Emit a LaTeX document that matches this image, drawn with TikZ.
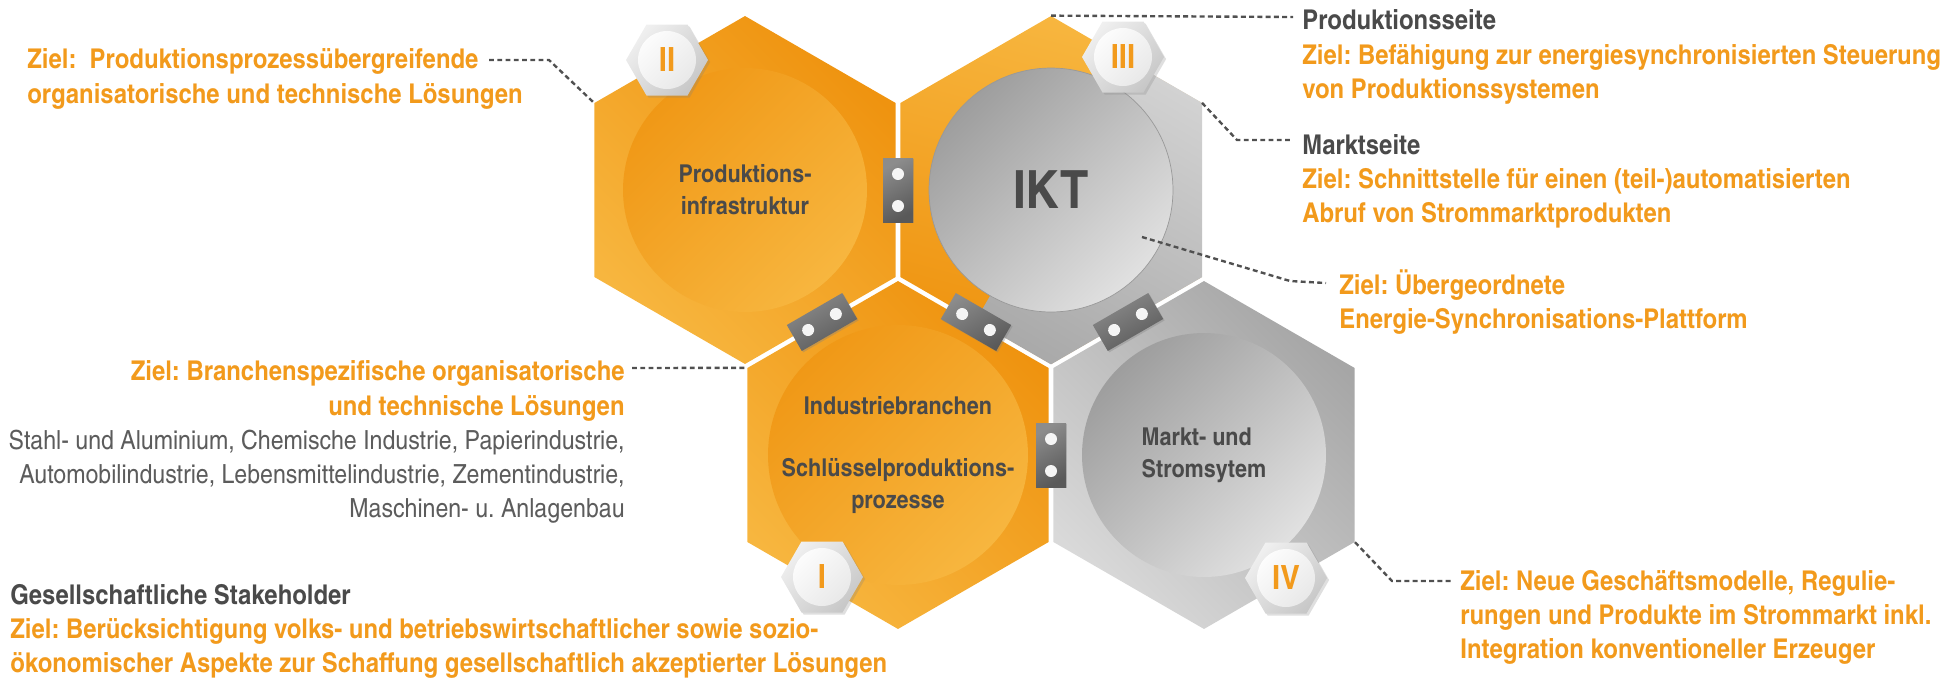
\documentclass[tikz,border=0pt]{standalone}
\usepackage{fontspec}
\setmainfont{texgyreheroscn}[Extension=.otf, UprightFont=*-regular, BoldFont=*-bold, FakeStretch=1.07]
\usetikzlibrary{
  positioning,
  shadows,
  shapes.geometric,
}
\frenchspacing

\definecolor{zielorange}{HTML}{F29A1C}
\definecolor{darktext}{HTML}{4A4A4A}
\definecolor{bodytext}{HTML}{5C5C5C}
\definecolor{dashgray}{HTML}{505050}
\definecolor{orangeD}{HTML}{EF930F}
\definecolor{orangeL}{HTML}{F7B63F}
\definecolor{grayD}{HTML}{A6A6A6}
\definecolor{grayL}{HTML}{D9D9D9}

\newcommand\zielfont{\fontsize{15.5}{19.4}\selectfont\bfseries}
\newcommand\titlefont{\fontsize{14}{18.2}\selectfont\bfseries}
\newcommand\iktfont{\fontsize{30}{30}\selectfont\bfseries}
\newcommand\badgefont{\fontsize{19}{19}\selectfont\bfseries}
\newcommand\bodyline[1]{{\fontsize{15}{19.4}\selectfont\mdseries\color{bodytext}#1}}
\newcommand\darkline[1]{{\color{darktext}#1}}

\tikzset{
  hexcell/.style={regular polygon, regular polygon sides=6, regular polygon rotate=30,
    minimum size=6.96cm, inner sep=0pt},
  orangecell/.style={hexcell, top color=orangeD, bottom color=orangeL, shading angle=-45},
  graycell/.style={hexcell, top color=grayD, bottom color=grayL, shading angle=-45},
  disc/.style={circle, minimum size=4.88cm, inner sep=0pt, align=center,
    text=darktext, font=\titlefont},
  orangedisc/.style={disc, top color=orangeD!85!orangeL, bottom color=orangeL, shading angle=45},
  graydisc/.style={disc, top color=grayD!95!black, bottom color=grayL!80!white, shading angle=45},
  badge/.style={regular polygon, regular polygon sides=6, minimum size=1.64cm, inner sep=0pt,
    top color=black!6, bottom color=black!22, shading angle=45,
    text=zielorange, font=\badgefont,
    drop shadow={opacity=0.25, shadow xshift=1.2pt, shadow yshift=-1.2pt},
    path picture={\shade[top color=white, bottom color=black!10, shading angle=45]
      (path picture bounding box.center) circle (0.58cm);}},
  ziel/.style={text=zielorange, font=\zielfont, inner sep=0pt},
  pointer/.style={dashgray, line width=1.35pt, dash pattern=on 2.8pt off 1.9pt},
}

\begin{document}
\begin{tikzpicture}[x=0.02cm, y=-0.02cm]
  \useasboundingbox (0,0) rectangle (1948,677);

  % honeycomb
  \node[orangecell] (hexII) at (745,190) {};
  \node[hexcell, top color=orangeL, bottom color=orangeD, shading angle=-15] (hexIII) at (1051,190) {};
  \node[orangecell] (hexI) at (898,455) {};
  \node[graycell] (hexIV) at (1204,455) {};

  % grey half of the IKT cell
  \begin{scope}
    \clip (hexIII.90) -- (hexIII.150) -- (hexIII.210) -- (hexIII.270)
      -- (hexIII.330) -- (hexIII.30) -- cycle;
    \shade[top color=grayL!70!white, bottom color=grayD, shading angle=-30]
      (1176,-27) -- (1420,-27) -- (1420,420) -- (926,407) -- cycle;
  \end{scope}

  % discs
  \node[orangedisc] (discII) at (hexII) {Produktions-\\infrastruktur};
  \node[graydisc, draw=black!40, line width=0.4pt, font=\iktfont] (ikt) at (hexIII) {IKT};
  \node[orangedisc] (discI) at (hexI) {Industriebranchen\\[17pt]Schlüsselproduktions-\\prozesse};
  \node[graydisc, align=left] (discIV) at (hexIV) {Markt- und\\Stromsytem};

  % plates between the cells
  \foreach \px/\py/\pa in {898/190/90, 822/322/30, 976/322/-30, 1128/322/30, 1051/455/90}
  {
    \begin{scope}[shift={(\px,\py)}, rotate=\pa]
      \shade[top color=black!45, bottom color=black!65, shading angle=30,
        drop shadow={opacity=0.35, shadow xshift=0.8pt, shadow yshift=-0.8pt}]
        (-32,-15) rectangle (32,15);
      \fill[black!4] (-16,0) circle (0.12cm) (16,0) circle (0.12cm);
    \end{scope}
  }

  % badges
  \node[badge] (badgeII) at (667,60) {II};
  \node[badge] (badgeIII) at (1123,57) {III};
  \node[badge] (badgeI) at (822,577) {I};
  \node[badge] (badgeIV) at (1286,578) {IV};

  % pointers
  \coordinate (pinII) at (489,60);
  \coordinate (pinProd) at (1293,17);
  \coordinate (pinMarkt) at (1292,140);
  \coordinate (iktpin) at (1142,237);
  \coordinate (pinSync) at (1326,283);
  \coordinate (pinBranchen) at (632,368);
  \coordinate (pinIV) at (1452,581);
  \draw[pointer] (pinII) -- ++(60,0) -- (hexII.150);
  \draw[pointer] (hexIII.90) -- (pinProd);
  \draw[pointer] (hexIII.30) -- (1237,140) -- (pinMarkt);
  \draw[pointer] (iktpin) -- (1290,281) -- (pinSync);
  \draw[pointer] (pinBranchen) -- (hexI.150);
  \draw[pointer] (hexIV.330) -- (1392,581) -- (pinIV);

  % labels
  \node[ziel, align=left, anchor=west] (lblII) at (27,79)
    {Ziel:~~Produktionsprozessübergreifende\\organisatorische und technische Lösungen};
  \node[ziel, align=left, anchor=west] (lblProd) at (1302,57)
    {\darkline{Produktionsseite}\\Ziel: Befähigung zur energiesynchronisierten Steuerung\\von Produktionssystemen};
  \node[ziel, align=left, anchor=west] (lblMarkt) at (1302,181)
    {\darkline{Marktseite}\\Ziel: Schnittstelle für einen (teil-)automatisierten\\Abruf von Strommarktprodukten};
  \node[ziel, align=left, anchor=west] (lblSync) at (1339,302)
    {Ziel: Übergeordnete\\Energie-Synchronisations-Plattform};
  \node[ziel, align=right, anchor=east] (lblBranchen) at (625,442)
    {Ziel: Branchenspezifische organisatorische\\und technische Lösungen\\
     \bodyline{Stahl- und Aluminium, Chemische Industrie, Papierindustrie,}\\
     \bodyline{Automobilindustrie, Lebensmittelindustrie, Zementindustrie,}\\
     \bodyline{Maschinen- u. Anlagenbau}};
  \node[ziel, align=left, anchor=west] (lblStake) at (10,631)
    {\darkline{Gesellschaftliche Stakeholder}\\Ziel: Berücksichtigung volks- und betriebswirtschaftlicher sowie sozio-\\ökonomischer Aspekte zur Schaffung gesellschaftlich akzeptierter Lösungen};
  \node[ziel, align=left, anchor=west] (lblIV) at (1460,617)
    {Ziel: Neue Geschäftsmodelle, Regulie-\\rungen und Produkte im Strommarkt inkl.\\Integration konventioneller Erzeuger};
\end{tikzpicture}
\end{document}
